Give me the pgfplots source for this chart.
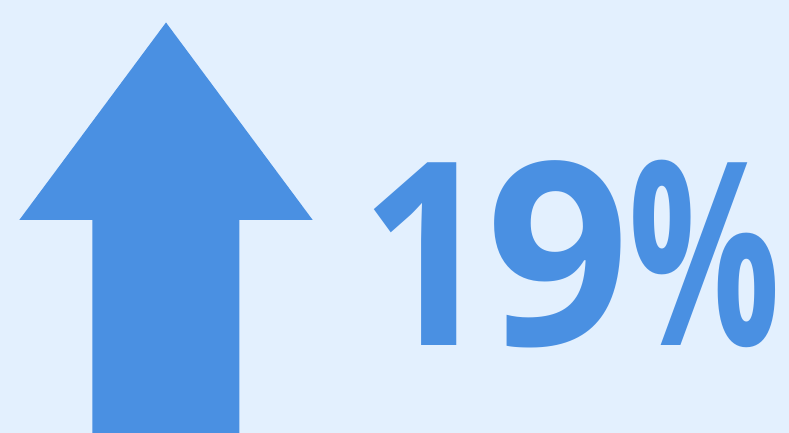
\documentclass[border=0pt]{standalone}
\usepackage{fontspec}
\setmainfont{Open Sans}
\usepackage{pgfplots}
\pgfplotsset{compat=1.18}
\definecolor{bg}{HTML}{E3F0FE}
\definecolor{arrowblue}{HTML}{4A90E2}
\begin{document}
\begin{tikzpicture}
\begin{axis}[
  width=789bp, height=433bp, scale only axis,
  xmin=0, xmax=789, ymin=0, ymax=433,
  hide axis, clip=false,
]
\addplot[fill=bg, draw=none] coordinates {(0,0) (789,0) (789,433) (0,433)} \closedcycle;
\addplot[fill=arrowblue, draw=none] coordinates {
  (92.3,0) (92.3,213) (19.3,213) (166,410.5) (312.7,213) (239.3,213) (239.3,0)
} -- cycle;
\node[anchor=base west, inner sep=0pt, text=arrowblue, font=\fontsize{257}{257}\selectfont\bfseries]
  at (axis cs:359.8,87) {\scalebox{0.91}[1]{1}\kern-6.6bp\scalebox{0.98}[1]{9}\kern-1bp\scalebox{0.66}[1]{\%}};
\end{axis}
\end{tikzpicture}
\end{document}
